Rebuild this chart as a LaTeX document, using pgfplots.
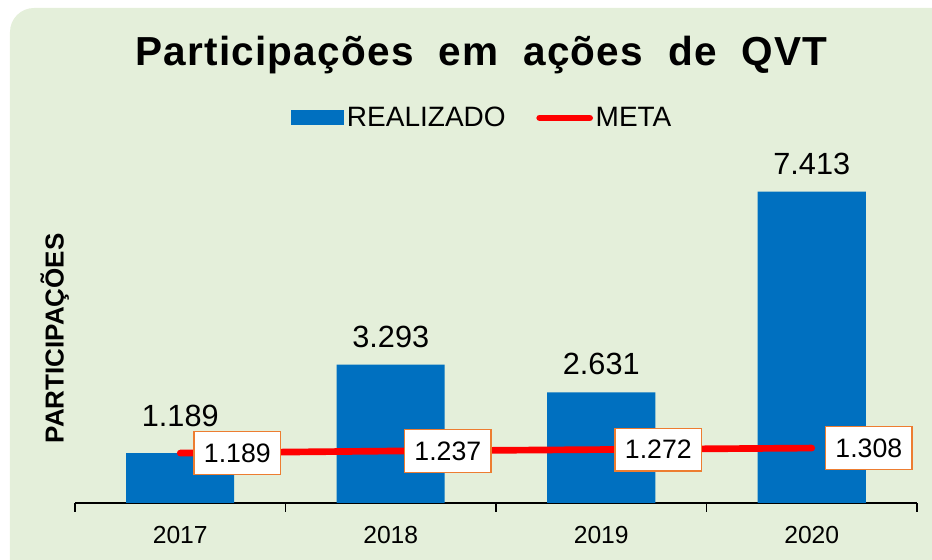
\documentclass[border=0pt]{standalone}
\usepackage{pgfplots}
\pgfplotsset{compat=1.18}
\usetikzlibrary{backgrounds}
\usepackage{fontspec}
\setmainfont{Liberation Sans}
\newfontfamily\titlefont[LetterSpace=3,WordSpace=2]{Liberation Sans}

\definecolor{fundo}{RGB}{228,239,218}
\definecolor{azul}{RGB}{0,112,192}
\definecolor{laranja}{RGB}{237,125,49}

\begin{document}
\begin{tikzpicture}[x=0.75pt,y=0.75pt]
\begin{axis}[
    scale only axis, width=631.5pt, height=252pt,
    xmin=0.5, xmax=4.5, ymin=0, ymax=8000,
    clip=false,
    axis x line*=bottom, axis y line*=left,
    y axis line style={draw=none}, ytick=\empty,
    x axis line style={black, line width=1.8pt},
    xtick={0.5,1.5,2.5,3.5,4.5},
    xticklabels={2017,2018,2019,2020},
    x tick label as interval,
    tick align=outside, major tick length=6.75pt,
    x tick style={black, line width=1.4pt},
    xticklabel style={font=\fontsize{18.5pt}{22pt}\selectfont, text=black, yshift=-7.5pt},
    title={Participações em ações de QVT},
    title style={at={(axis description cs:0.4828,1.277)}, anchor=base,
        font=\titlefont\bfseries\fontsize{30.4pt}{36pt}\selectfont},
    ylabel={PARTICIPAÇÕES},
    ylabel style={at={(axis description cs:-0.024,0.49)}, anchor=center,
        font=\bfseries\fontsize{19.5pt}{23pt}\selectfont},
    legend columns=-1,
    legend style={at={(axis description cs:0.4834,1.146)}, anchor=center,
        draw=none, fill=none, inner sep=0pt,
        font=\fontsize{21pt}{25pt}\selectfont,
        nodes={inner sep=1pt},
        /tikz/every odd column/.append style={column sep=1pt},
        /tikz/every even column/.append style={column sep=22pt}},
    /pgf/number format/1000 sep={.},
    /pgf/number format/assume math mode=true,
]
\coordinate (O) at (rel axis cs:0,0);

\addplot[ybar, bar width=81pt, fill=azul, draw=none,
    visualization depends on={rawx \as \myx},
    nodes near coords={\pgfmathparse{\myx<1.5}%
        \ifdim\pgfmathresult pt>0.5pt\raisebox{6.75pt}{\pgfmathprintnumber{\pgfplotspointmeta}}%
        \else\pgfmathprintnumber{\pgfplotspointmeta}\fi},
    every node near coord/.append style={font=\fontsize{23pt}{27pt}\selectfont,
        inner sep=0pt, anchor=south, yshift=12.75pt, text=black},
    legend image code/.code={\fill[azul] (0pt,-5.6pt) rectangle (39.75pt,5.6pt);}]
coordinates {(1,1189) (2,3293) (3,2631) (4,7413)};
\addlegendentry{REALIZADO}

\addplot[red, line width=5pt, line cap=round, mark=none,
    nodes near coords,
    every node near coord/.append style={font=\fontsize{20pt}{24pt}\selectfont,
        fill=white, draw=laranja, line width=1.1pt, text=black,
        anchor=west, xshift=9.75pt, inner xsep=7.5pt, inner ysep=0pt,
        minimum height=32pt},
    legend image code/.code={\draw[red, line width=5pt] (0pt,0pt) -- (37.5pt,0pt);}]
coordinates {(1,1189) (2,1237) (3,1272) (4,1308)};
\addlegendentry{META}
\end{axis}

\pgfresetboundingbox
\useasboundingbox ([shift={(-75,-57)}]O) rectangle ([shift={(857,503)}]O);
\begin{scope}[on background layer]
% painel de fundo
\fill[fundo, rounded corners=18pt] ([shift={(-65,-100)}]O) rectangle ([shift={(905,495)}]O);
\end{scope}
\end{tikzpicture}
\end{document}
